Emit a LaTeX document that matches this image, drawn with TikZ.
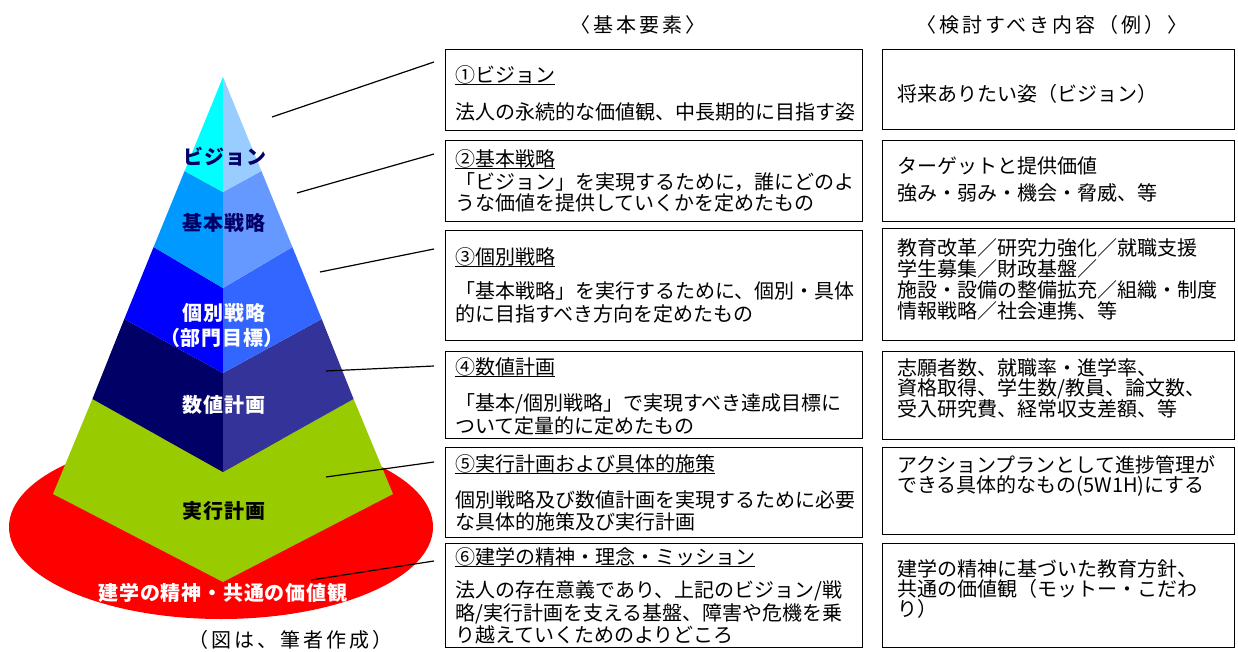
\documentclass[tikz,border=0pt]{standalone}
\usepackage{fontspec}
\setmainfont{Noto Sans CJK JP}
\definecolor{aL}{HTML}{00FFFF}\definecolor{aR}{HTML}{99CCFF}
\definecolor{bL}{HTML}{0099FF}\definecolor{bR}{HTML}{6699FF}
\definecolor{cL}{HTML}{0000FF}\definecolor{cR}{HTML}{3366FF}
\definecolor{dL}{HTML}{000066}\definecolor{dR}{HTML}{333399}
\definecolor{grn}{HTML}{99CC00}
\definecolor{rd}{HTML}{FF0000}
\definecolor{navy}{HTML}{000066}
\newcommand\ulx[1]{\setbox0\hbox{#1}\rlap{\rule[-2.3pt]{\wd0}{1.2pt}}\box0}
\begin{document}
\begin{tikzpicture}[x=1pt,y=-1pt,
  txt/.style={anchor=west, inner sep=0pt, text height=17.6pt, text depth=2.4pt, font=\fontsize{20}{24}\selectfont},
  ctr/.style={anchor=center, inner sep=0pt, text height=17.6pt, text depth=2.4pt, font=\fontsize{20}{24}\selectfont\addfontfeature{LetterSpace=15}},
  plabel/.style={anchor=center, inner sep=0pt, text height=17.6pt, text depth=2.4pt, font=\fontsize{20}{24}\selectfont\bfseries\addfontfeature{LetterSpace=4}},
  box/.style={draw=black, line width=1.3pt, anchor=north west, inner sep=0pt},
  mbox/.style={box, minimum width=417pt},
  rbox/.style={box, minimum width=352pt},
  conn/.style={draw=black, line width=1.2pt}
]
\useasboundingbox (0,0) rectangle (1238,652);
\fill[white] (0,0) rectangle (1238,652);

% base ellipse
\fill[rd] (221,527) ellipse [x radius=212pt, y radius=92pt];

% pyramid layers
\fill[grn] (92.4,399) -- (53,494) -- (223,582) -- (393,494) -- (353.6,399) -- (223,472) -- cycle;
\fill[dL] (124.3,319) -- (92.4,399) -- (223,472) -- (223,373) -- cycle;
\fill[dR] (321.7,319) -- (353.6,399) -- (223,472) -- (223,373) -- cycle;
\fill[cL] (153.6,247) -- (124.3,319) -- (223,373) -- (223,288) -- cycle;
\fill[cR] (292.4,247) -- (321.7,319) -- (223,373) -- (223,288) -- cycle;
\fill[bL] (184.6,171) -- (153.6,247) -- (223,288) -- (223,192) -- cycle;
\fill[bR] (261.4,171) -- (292.4,247) -- (223,288) -- (223,192) -- cycle;
\fill[aL] (223,77) -- (184.6,171) -- (223,192) -- cycle;
\fill[aR] (223,77) -- (261.4,171) -- (223,192) -- cycle;

% pyramid labels
\node[plabel, text=navy] (p1) at (225,157) {ビジョン};
\node[plabel, text=navy] (p2) at (224,223) {基本戦略};
\node[plabel, text=white] (p3) at (224,313) {個別戦略};
\node[plabel, text=white] (p3b) at (222,338) {（部門目標）};
\node[plabel, text=white] (p4) at (224,405) {数値計画};
\node[plabel, text=black] (p5) at (224,511) {実行計画};
\node[plabel, text=white] (p6) at (223,593) {建学の精神・共通の価値観};
\node[ctr] (src) at (290,640) {（図は、筆者作成）};

% headings
\node[ctr] (h1) at (638,25) {〈基本要素〉};
\node[ctr] (h2) at (1052,25) {〈検討すべき内容（例）〉};

% middle boxes
\node[mbox, minimum height=81pt] (m1) at (445,49) {};
\node[mbox, minimum height=81pt] (m2) at (445,140) {};
\node[mbox, minimum height=110pt] (m3) at (445,230) {};
\node[mbox, minimum height=87pt] (m4) at (445,351) {};
\node[mbox, minimum height=90pt] (m5) at (445,447) {};
\node[mbox, minimum height=104pt] (m6) at (445,543) {};

% right boxes
\node[rbox, minimum height=80pt] (r1) at (882,49) {};
\node[rbox, minimum height=81pt] (r2) at (882,140) {};
\node[rbox, minimum height=112pt] (r3) at (882,228) {};
\node[rbox, minimum height=88pt] (r4) at (882,351) {};
\node[rbox, minimum height=87pt] (r5) at (882,447) {};
\node[rbox, minimum height=104pt] (r6) at (882,543) {};

% middle texts
\node[txt] (m1t) at (455,75) {\ulx{①ビジョン}};
\node[txt] (m1a) at (455,112) {法人の永続的な価値観、中長期的に目指す姿};
\node[txt] (m2t) at (455,159) {\ulx{②基本戦略}};
\node[txt] (m2a) at (455,182) {「ビジョン」を実現するために，誰にどのよ};
\node[txt] (m2b) at (455,203) {うな価値を提供していくかを定めたもの};
\node[txt] (m3t) at (455,257) {\ulx{③個別戦略}};
\node[txt] (m3a) at (455,291) {「基本戦略」を実行するために、個別・具体};
\node[txt] (m3b) at (455,314) {的に目指すべき方向を定めたもの};
\node[txt] (m4t) at (455,367) {\ulx{④数値計画}};
\node[txt] (m4a) at (455,403) {「基本/個別戦略」で実現すべき達成目標に};
\node[txt] (m4b) at (455,426) {ついて定量的に定めたもの};
\node[txt] (m5t) at (455,464) {\ulx{⑤実行計画および具体的施策}};
\node[txt] (m5a) at (455,500) {個別戦略及び数値計画を実現するために必要};
\node[txt] (m5b) at (455,522) {な具体的施策及び実行計画};
\node[txt] (m6t) at (455,557) {\ulx{⑥建学の精神・理念・ミッション}};
\node[txt] (m6a) at (455,590) {法人の存在意義であり、上記のビジョン/戦};
\node[txt] (m6b) at (455,613) {略/実行計画を支える基盤、障害や危機を乗};
\node[txt] (m6c) at (455,635) {り越えていくためのよりどころ};

% right texts
\node[txt] (r1a) at (897,94) {将来ありたい姿（ビジョン）};
\node[txt] (r2a) at (897,166) {ターゲットと提供価値};
\node[txt] (r2b) at (897,193) {強み・弱み・機会・脅威、等};
\node[txt] (r3a) at (897,248) {教育改革／研究力強化／就職支援};
\node[txt] (r3b) at (897,269) {学生募集／財政基盤／};
\node[txt] (r3c) at (897,290) {施設・設備の整備拡充／組織・制度};
\node[txt] (r3d) at (897,311) {情報戦略／社会連携、等};
\node[txt] (r4a) at (897,368) {志願者数、就職率・進学率、};
\node[txt] (r4b) at (897,388) {資格取得、学生数/教員、論文数、};
\node[txt] (r4c) at (897,409) {受入研究費、経常収支差額、等};
\node[txt] (r5a) at (897,465) {アクションプランとして進捗管理が};
\node[txt] (r5b) at (897,485) {できる具体的なもの(5W1H)にする};
\node[txt] (r6a) at (897,569) {建学の精神に基づいた教育方針、};
\node[txt] (r6b) at (897,589) {共通の価値観（モットー・こだわ};
\node[txt] (r6c) at (897,609) {り）};

% connectors
\coordinate (c1a) at (272,117); \coordinate (c1b) at (434,62);
\coordinate (c2a) at (297,193); \coordinate (c2b) at (434,154);
\coordinate (c3a) at (320,272); \coordinate (c3b) at (434,249);
\coordinate (c4a) at (326,371); \coordinate (c4b) at (434,366);
\coordinate (c5a) at (326,477); \coordinate (c5b) at (434,462);
\coordinate (c6a) at (311,580); \coordinate (c6b) at (434,561);
\draw[conn] (c1a) -- (c1b);
\draw[conn] (c2a) -- (c2b);
\draw[conn] (c3a) -- (c3b);
\draw[conn] (c4a) -- (c4b);
\draw[conn] (c5a) -- (c5b);
\draw[conn] (c6a) -- (c6b);
\end{tikzpicture}
\end{document}
